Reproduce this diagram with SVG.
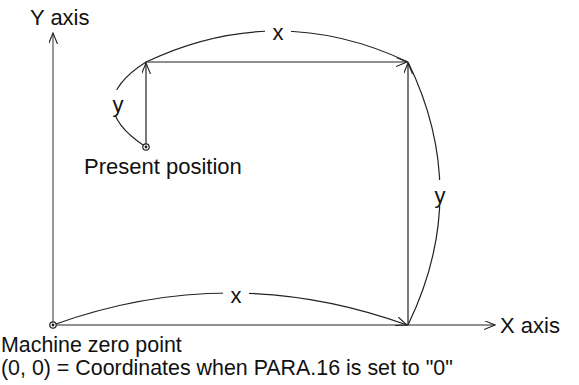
<svg xmlns="http://www.w3.org/2000/svg" width="579" height="385" viewBox="0 0 579 385">
<style>
.ln{fill:none;stroke:#222;stroke-width:1.2}
.ax{fill:none;stroke:#555;stroke-width:1.2}
.t{font-family:"Liberation Sans",Arial,sans-serif;font-size:22px;fill:#111}
.b{font-size:21.4px}
.lb{font-family:"Liberation Sans",Arial,sans-serif;font-size:22px;fill:#111;text-anchor:middle}
</style>
<defs>
<marker id="ah" markerWidth="12" markerHeight="10" refX="11" refY="4.5" orient="auto" markerUnits="userSpaceOnUse">
<path d="M0,0 L11,4.5 L0,9" fill="none" stroke="#222" stroke-width="1.1"/>
</marker>
</defs>
<g id="connectors">
<line id="y-axis" class="ax" x1="53" y1="325" x2="53" y2="33" marker-end="url(#ah)"/>
<line id="x-axis" class="ln" x1="53" y1="325" x2="495" y2="325" marker-end="url(#ah)"/>
<line id="move-y" class="ln" x1="146" y1="147" x2="146" y2="63" marker-end="url(#ah)"/>
<line id="move-x" class="ln" x1="146" y1="62" x2="407" y2="62" marker-end="url(#ah)"/>
<line id="zero-y" class="ln" x1="408" y1="325" x2="408" y2="63" marker-end="url(#ah)"/>
<path id="arc-bottom-x" class="ln" d="M53,325 Q230,261 407,325" marker-end="url(#ah)"/>
<path id="arc-right-y" class="ln" d="M408,325 Q472,193 408,62"/>
<path id="arc-top-x" class="ln" d="M146,62 Q277,0 408,62"/>
<path id="arc-left-y" class="ln" d="M146,62 Q80,104 146,147"/>
<rect x="223" y="284" width="26" height="22" fill="#fff"/>
<rect x="265" y="21" width="26" height="22" fill="#fff"/>
<rect x="429" y="180" width="22" height="26" fill="#fff"/>
<rect x="106" y="90" width="24" height="26" fill="#fff"/>
<text class="lb" x="236" y="303">x</text>
<text class="lb" x="278" y="40">x</text>
<text class="lb" x="440" y="203">y</text>
<text class="lb" x="118" y="112">y</text>
</g>
<g id="present-position">
<circle cx="146" cy="147" r="3.2" fill="#fff" stroke="#222" stroke-width="1.2"/>
<circle cx="146" cy="147" r="1.4" fill="#222"/>
<text class="t" x="84" y="174">Present position</text>
</g>
<g id="machine-zero">
<circle cx="53" cy="325" r="3.2" fill="#fff" stroke="#222" stroke-width="1.2"/>
<circle cx="53" cy="325" r="1.4" fill="#222"/>
<text class="t b" x="1" y="352">Machine zero point</text>
<text class="t b" x="1" y="375">(0, 0) = Coordinates when PARA.16 is set to "0"</text>
</g>
<g id="y-axis-label"><text class="t" x="30" y="25">Y axis</text></g>
<g id="x-axis-label"><text class="t" x="500" y="333">X axis</text></g>
</svg>
